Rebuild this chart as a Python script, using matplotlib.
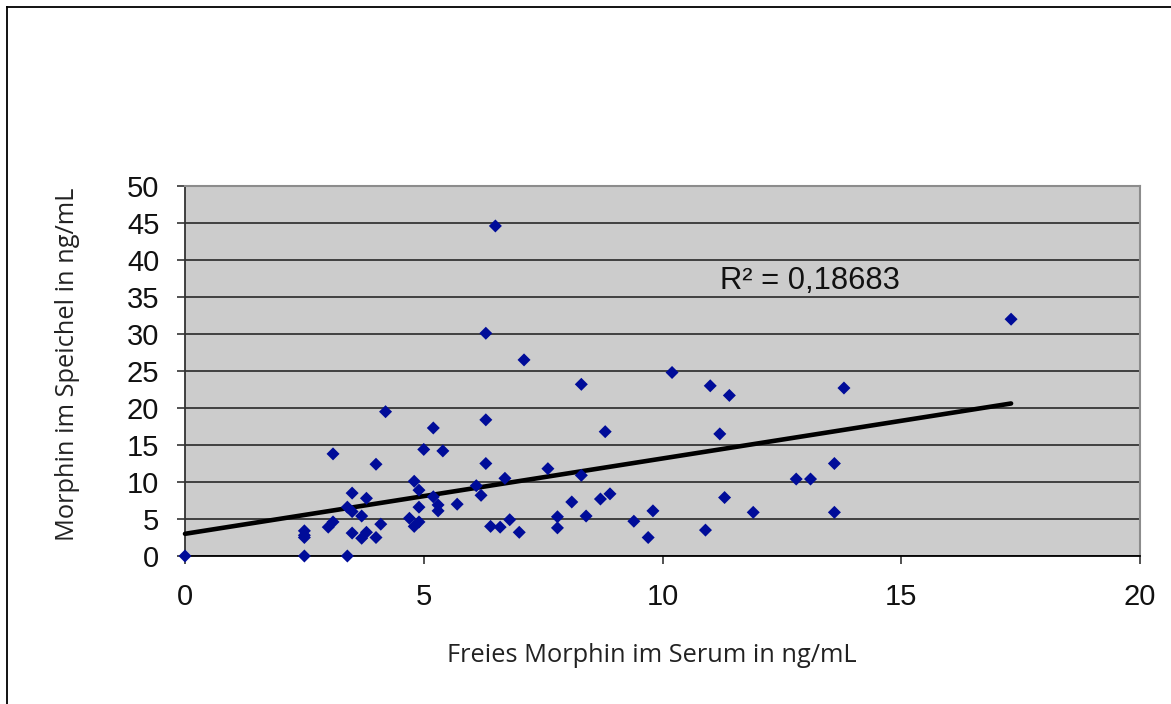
import numpy as np
import matplotlib
matplotlib.use("Agg")
import matplotlib.pyplot as plt
from matplotlib.lines import Line2D

# Data
serum_free_morphine = [
    0.0, 2.5, 2.5, 2.5, 2.5, 3.4, 3.0, 3.1, 3.1, 3.4, 3.5, 3.5, 3.5, 3.7, 3.7,
    3.8, 3.8, 4.0, 4.0, 4.1, 4.2, 4.7, 4.8, 4.8, 4.9, 4.9, 4.9, 5.0, 5.2, 5.2,
    5.3, 5.3, 5.4, 5.7, 6.1, 6.2, 6.3, 6.3, 6.3, 6.4, 6.5, 6.6, 6.7, 6.8, 7.0,
    7.1, 7.6, 7.8, 7.8, 8.1, 8.3, 8.3, 8.4, 8.7, 8.8, 8.9, 9.4, 9.7, 9.8, 10.2,
    10.9, 11.0, 11.2, 11.3, 11.4, 11.9, 12.8, 13.1, 13.6, 13.6, 13.8, 17.3,
]
saliva_morphine = [
    0.0, 0.0, 3.4, 2.8, 2.5, 0.0, 3.9, 4.6, 13.8, 6.6, 8.5, 6.0, 3.1, 5.4, 2.4,
    3.2, 7.8, 12.4, 2.5, 4.3, 19.5, 5.1, 10.1, 4.0, 8.9, 6.6, 4.6, 14.4, 17.3, 8.0,
    6.9, 6.1, 14.2, 7.0, 9.5, 8.2, 18.4, 12.5, 30.1, 4.0, 44.6, 3.9, 10.5, 4.9, 3.2,
    26.5, 11.8, 5.3, 3.8, 7.3, 23.2, 10.9, 5.4, 7.7, 16.8, 8.4, 4.7, 2.5, 6.1, 24.8,
    3.5, 23.0, 16.5, 7.9, 21.7, 5.9, 10.4, 10.4, 12.5, 5.9, 22.7, 32.0,
]
# linear trend line as drawn in the reference (intercept, slope)
trend_intercept = 3.0
trend_slope = 1.018
x_ticks = [0, 5, 10, 15, 20]
y_ticks = [0, 5, 10, 15, 20, 25, 30, 35, 40, 45, 50]
x_label = "Freies Morphin im Serum in ng/mL"
y_label = "Morphin im Speichel in ng/mL"
r2_text = "R² = 0,18683"

W, H = 1171, 704
fig = plt.figure(figsize=(W / 100, H / 100), dpi=100)
fig.patch.set_facecolor("white")

# outer chart frame (top + left visible)
fig.add_artist(Line2D([6.5 / W, 6.5 / W], [0, 1 - 7 / H], transform=fig.transFigure,
                      color="black", lw=1.3))
fig.add_artist(Line2D([6.5 / W, 1], [1 - 7 / H, 1 - 7 / H], transform=fig.transFigure,
                      color="black", lw=1.3))

left, right, top, bottom = 185, 1140, 186, 556
ax = fig.add_axes([left / W, 1 - bottom / H, (right - left) / W, (bottom - top) / H])
ax.set_facecolor("#cccccc")

x = np.array(serum_free_morphine)
y = np.array(saliva_morphine)

ax.set_xlim(0, 20)
ax.set_ylim(0, 50)
ax.set_xticks(x_ticks)
ax.set_yticks(y_ticks)
ax.set_xticklabels([str(t) for t in x_ticks])
ax.set_yticklabels([str(t) for t in y_ticks])

ax.set_axisbelow(True)
ax.yaxis.grid(True, color="#1a1a1a", lw=1.1)
ax.xaxis.grid(False)

for s in ["top", "right"]:
    ax.spines[s].set_color("#8c8c8c")
    ax.spines[s].set_linewidth(1.5)
ax.spines["left"].set_color("#333333")
ax.spines["bottom"].set_color("#000000")
ax.spines["left"].set_linewidth(1.3)
ax.spines["bottom"].set_linewidth(1.3)

tick_family = ["Liberation Sans", "DejaVu Sans"]
ax.tick_params(axis="both", direction="out", length=5.5, width=1.1, color="#222222")
ax.tick_params(axis="y", pad=13)
ax.tick_params(axis="x", pad=14)
for lab in ax.get_xticklabels() + ax.get_yticklabels():
    lab.set_fontfamily(tick_family)
    lab.set_fontsize(21)
    lab.set_color("#111111")

xs = np.array([0, x.max()])
ax.plot(xs, trend_intercept + trend_slope * xs, color="black", lw=3.3,
        solid_capstyle="round", zorder=3, clip_on=False)

ax.scatter(x, y, marker="D", s=44, color="#000c99", edgecolors="none", zorder=4,
           clip_on=False)

ax.text(11.2, 37.2, r2_text, fontsize=22.2, family=tick_family,
        color="#111111", va="center", ha="left")

fig.text(652 / W, 1 - 655 / H, x_label, fontsize=18.3,
         family=["Open Sans", "DejaVu Sans"], ha="center", va="center", color="#222222")
fig.text(68 / W, 1 - 364 / H, y_label, fontsize=18.3, rotation=90,
         family=["Open Sans", "DejaVu Sans"], ha="center", va="center", color="#222222")

fig.savefig("out.png", dpi=100)
